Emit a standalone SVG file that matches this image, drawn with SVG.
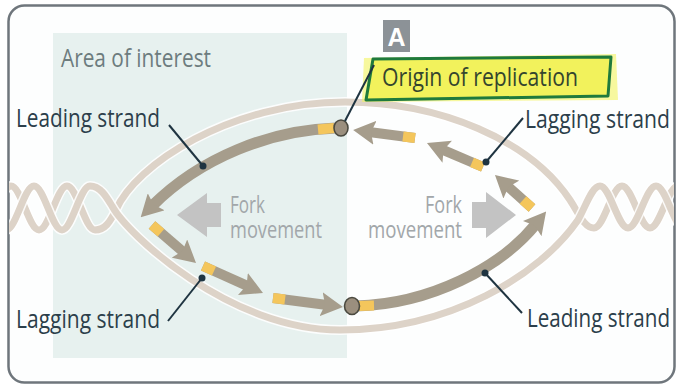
<svg xmlns="http://www.w3.org/2000/svg" width="680" height="389" viewBox="0 0 680 389">
  <defs>
    <style>
      .label { font-family: "Open Sans", "Liberation Sans", sans-serif; font-size: 25px; fill: #2c3f4b; }
      .area { font-family: "Open Sans", "Liberation Sans", sans-serif; font-size: 25px; fill: #6d7c7e; }
      .fork { font-family: "Open Sans", "Liberation Sans", sans-serif; font-size: 24px; fill: #a2a7aa; }
      .parent-halo { fill: none; stroke: #ffffff; stroke-opacity: 0.85; stroke-width: 10; stroke-linecap: round; }
      .parent { fill: none; stroke: #ddd3c8; stroke-width: 7; stroke-linecap: round; }
      .new { fill: none; stroke: #a69d8c; stroke-width: 10; }
      .lead { fill: none; stroke: #a69d8c; stroke-width: 11; }
      .primer { fill: none; stroke: #f4c65c; stroke-width: 10; }
      .leader { fill: none; stroke: #1f3441; stroke-width: 2; }
      .dot { fill: #1f3441; }
      .origin { fill: #9b8f7e; stroke: #4b4a40; stroke-width: 1.6; }
      .fork-arrow { fill: #c3c3c3; }
    </style>
    <marker id="head" markerUnits="userSpaceOnUse" viewBox="0 -12 22 24" refX="6" refY="0" markerWidth="22" markerHeight="24" orient="auto">
      <path d="M0,-12 L22,0 L0,12 L4,0 Z" fill="#a69d8c"/>
    </marker>
    <clipPath id="inside">
      <rect x="9" y="6" width="665" height="376" rx="15"/>
    </clipPath>
    <!-- the two parental strands: helix on each side, bubble in the middle -->
    <path id="strand-a" d="M-17,230 C-7,230 1,186 11,186 C21,186 29,230 39,230 C49,230 57,186 67,186 C77,186 85,230 95,230 C105,230 110,222 116,210 C135,165 230,102 345,102 C440,102 530,140 570,200 C578,212 584,228 594,228 C604,228 612,186 622,186 C632,186 640,228 650,228 C660,228 668,186 678,186 C688,186 696,228 706,228"/>
    <path id="strand-b" d="M-22,186 C-12,186 -4,230 6,230 C16,230 24,186 34,186 C44,186 52,230 62,230 C72,230 80,186 90,186 C100,186 106,196 112,206 C128,235 230,330 340,330 C450,330 540,275 578,220 C586,206 592,186 600,186 C610,186 618,228 628,228 C638,228 646,186 656,186 C666,186 674,228 684,228 C694,228 702,186 712,186"/>
  </defs>

  <!-- panel -->
  <rect width="680" height="389" fill="#ffffff"/>
  <g id="frame">
    <rect x="8.5" y="5.5" width="666" height="377" rx="16" fill="#fdfefe" stroke="#6f767c" stroke-width="2.5"/>
  </g>

  <!-- shaded region -->
  <g id="area-of-interest">
    <rect x="53" y="33" width="294" height="325" fill="#e7f1ef"/>
    <text class="area" x="61" y="67" textLength="150" lengthAdjust="spacingAndGlyphs">Area of interest</text>
  </g>

  <g id="parental-strands" clip-path="url(#inside)">
    <use href="#strand-a" class="parent-halo"/>
    <use href="#strand-a" class="parent"/>
    <use href="#strand-b" class="parent-halo"/>
    <use href="#strand-b" class="parent"/>
  </g>

  <!-- fork movement -->
  <g id="fork-left">
    <polygon class="fork-arrow" points="177,215 207,193 207,203 221,203 221,227 207,227 207,237"/>
    <text class="fork" x="230" y="213" textLength="35" lengthAdjust="spacingAndGlyphs">Fork</text>
    <text class="fork" x="230" y="238" textLength="92" lengthAdjust="spacingAndGlyphs">movement</text>
  </g>
  <g id="fork-right">
    <polygon class="fork-arrow" points="472,202 486,202 486,192 516,215 486,238 486,228 472,228"/>
    <text class="fork" x="462" y="213" text-anchor="end" textLength="37" lengthAdjust="spacingAndGlyphs">Fork</text>
    <text class="fork" x="462" y="238" text-anchor="end" textLength="94" lengthAdjust="spacingAndGlyphs">movement</text>
  </g>

  <!-- leading strands -->
  <g id="leading-top">
    <path class="lead" d="M336,128 C270,130 200,158 152,206" marker-end="url(#head)"/>
    <path class="primer" d="M318,129.5 L334,128"/>
  </g>
  <g id="leading-bottom">
    <path class="lead" d="M356,306 C430,304 500,268 536,224" marker-end="url(#head)"/>
    <path class="primer" d="M359,306 L374,305.5"/>
  </g>

  <!-- lagging strand fragments -->
  <g id="lagging-top">
    <path class="new" d="M415,138 L369,132" marker-end="url(#head)"/>
    <path class="primer" d="M415,138 L403,136.5"/>
    <path class="new" d="M483,167 L441.7,149.3" marker-end="url(#head)"/>
    <path class="primer" d="M483,167 L472,162.3"/>
    <path class="new" d="M532,208 L506.9,185.6" marker-end="url(#head)"/>
    <path class="primer" d="M532,208 L523,200"/>
  </g>
  <g id="lagging-bottom">
    <path class="new" d="M152,225 L183.9,252.5" marker-end="url(#head)"/>
    <path class="primer" d="M152,225 L161,232.8"/>
    <path class="new" d="M203,266 L248.4,286.4" marker-end="url(#head)"/>
    <path class="primer" d="M203,266 L214,271"/>
    <path class="new" d="M273,298 L327.1,305" marker-end="url(#head)"/>
    <path class="primer" d="M273,298 L285,299.5"/>
  </g>

  <!-- origins -->
  <g id="origin-top">
    <ellipse class="origin" cx="341" cy="128" rx="7" ry="8"/>
  </g>
  <g id="origin-bottom">
    <ellipse class="origin" cx="352" cy="306" rx="7.5" ry="8.5"/>
  </g>

  <!-- panel letter -->
  <g id="panel-letter">
    <rect x="383" y="20" width="27" height="32" fill="#8c9297"/>
    <text x="396.5" y="46" text-anchor="middle" font-family="Liberation Sans, sans-serif" font-weight="bold" font-size="25" fill="#ffffff">A</text>
  </g>

  <!-- highlighted origin label -->
  <g id="origin-label">
    <polygon points="364,58 616,54 618,100 362,102" fill="#f4f35e" opacity="0.6"/>
    <polygon points="373,59 611,57 608,96 366,100" fill="#f2f25c" stroke="#1f7a3c" stroke-width="3" stroke-linejoin="round"/>
    <text class="label" x="382" y="86" textLength="196" lengthAdjust="spacingAndGlyphs" style="fill:#34452e">Origin of replication</text>
  </g>

  <!-- strand labels -->
  <g id="label-leading-top">
    <text class="label" x="16" y="127" textLength="144" lengthAdjust="spacingAndGlyphs">Leading strand</text>
  </g>
  <g id="label-lagging-bottom">
    <text class="label" x="16" y="328" textLength="144" lengthAdjust="spacingAndGlyphs">Lagging strand</text>
  </g>
  <g id="label-lagging-top">
    <text class="label" x="525" y="128" textLength="145" lengthAdjust="spacingAndGlyphs">Lagging strand</text>
  </g>
  <g id="label-leading-bottom">
    <text class="label" x="527" y="327" textLength="143" lengthAdjust="spacingAndGlyphs">Leading strand</text>
  </g>

  <!-- leader lines -->
  <g id="connectors">
    <line class="leader" x1="169" y1="125" x2="203" y2="166"/>
    <circle class="dot" cx="203" cy="166" r="3.5"/>
    <line class="leader" x1="168" y1="321" x2="202" y2="278"/>
    <circle class="dot" cx="202" cy="278" r="3.5"/>
    <line class="leader" x1="523" y1="118" x2="486" y2="162"/>
    <circle class="dot" cx="486" cy="162" r="3.5"/>
    <line class="leader" x1="522" y1="313" x2="485" y2="273"/>
    <circle class="dot" cx="485" cy="273" r="3.5"/>
    <line class="leader" x1="374" y1="65" x2="345" y2="121"/>
  </g>
</svg>
